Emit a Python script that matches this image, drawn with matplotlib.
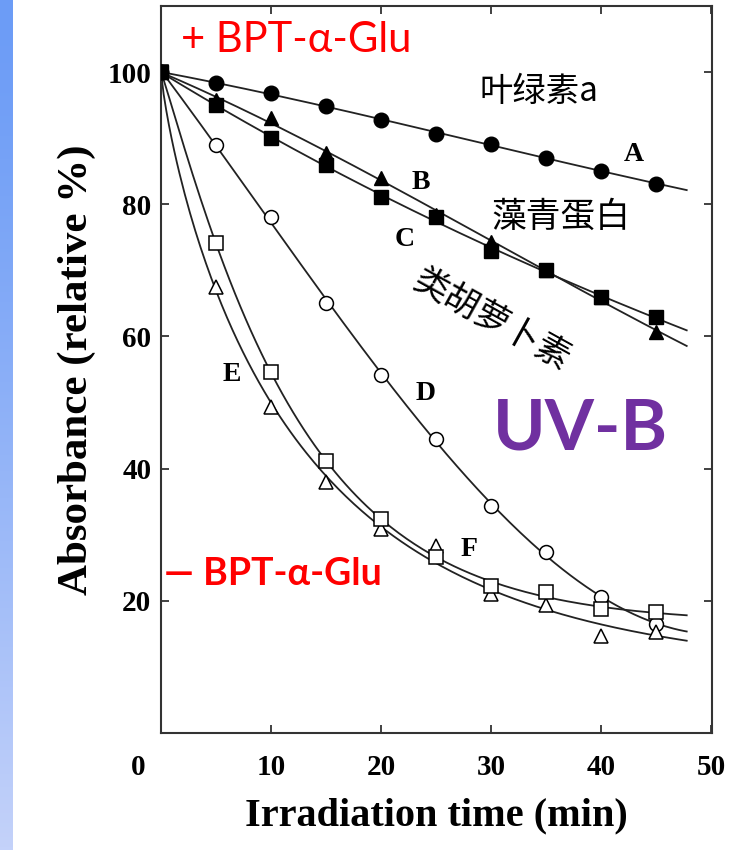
import numpy as np
import matplotlib
matplotlib.use('Agg')
import matplotlib.pyplot as plt

# irradiation time points (min)
t = [0, 5, 10, 15, 20, 25, 30, 35, 40, 45]

# relative absorbance (%) for each pigment series
A = [100, 98.3, 96.8, 94.9, 92.7, 90.7, 89.1, 87.0, 85.1, 83.1]
B = [100, 95.8, 93.0, 87.8, 84.0, 78.4, 74.3, 70.1, 66.0, 60.6]
C = [100, 95.0, 90.0, 86.0, 81.1, 78.0, 73.0, 70.0, 65.9, 62.9]
D = [100, 89.0, 78.0, 65.0, 54.1, 44.5, 34.3, 27.4, 20.6, 16.5]
E = [100, 67.5, 49.3, 38.0, 30.9, 28.3, 21.0, 19.3, 14.7, 15.3]
F = [100, 74.2, 54.6, 41.1, 32.4, 26.6, 22.3, 21.4, 18.8, 18.3]

xticks = [10, 20, 30, 40, 50]
yticks = [20, 40, 60, 80, 100]

serif = 'Liberation Serif'
cjk = ['Noto Sans CJK SC', 'DejaVu Sans']


def fit_exp(x, y, tmax=47.8):
    # y = a + (y0 - a)*exp(-k t^p), curve pinned at the first point
    x = np.asarray(x, float)
    y = np.asarray(y, float)
    y0 = y[0]
    best = None
    for p in np.linspace(0.6, 1.2, 31):
        for k in np.linspace(0.005, 0.6, 600):
            e = np.exp(-k * x ** p)
            g = 1 - e
            a = np.sum(g * (y - y0 * e)) / np.sum(g * g)
            err = np.sum((a + (y0 - a) * e - y) ** 2)
            if best is None or err < best[0]:
                best = (err, k, p, a)
    _, k, p, a = best
    xs = np.linspace(0, tmax, 200)
    return xs, a + (y0 - a) * np.exp(-k * xs ** p)


def fit_poly(x, y, deg=3, tmax=47.8):
    c = np.polyfit(x, y, deg)
    xs = np.linspace(0, tmax, 200)
    return xs, np.polyval(c, xs)


fig = plt.figure(figsize=(7.51, 8.5), dpi=100)
fig.patch.set_facecolor('white')

# blue slide strip along the left edge
strip = fig.add_axes([0, 0, 13 / 751, 1])
grad = np.linspace(0, 1, 256)[:, None]
top = np.array([108, 156, 246]) / 255
bot = np.array([196, 210, 250]) / 255
img = top + (bot - top) * grad[:, :, None] ** 1.3
img = img.repeat(2, axis=1)
strip.imshow(img, aspect='auto', extent=[0, 1, 0, 1], origin='upper')
strip.axis('off')

ax = fig.add_axes([161 / 751, 1 - 733 / 850, 551 / 751, 727 / 850])
ax.set_xlim(0, 50.1)
ax.set_ylim(0, 110)

lc = '#222222'
for ys, kind in [(A, 'p'), (B, 'p'), (C, 'p'), (D, 'p'), (E, 'e'), (F, 'e')]:
    if kind == 'e':
        xs, fy = fit_exp(t, ys)
    else:
        xs, fy = fit_poly(t, ys)
    ax.plot(xs, fy, color=lc, lw=1.3, zorder=2)

ms = 10.5
ax.plot(t, A, 'o', color='black', ms=ms, zorder=3)
ax.plot(t, B, '^', color='black', ms=ms, zorder=3)
ax.plot(t, C, 's', color='black', ms=ms - 0.8, zorder=4)
ax.plot(t, D, 'o', mfc='white', mec='black', mew=1.1, ms=ms - 0.5, zorder=3)
ax.plot(t, E, '^', mfc='white', mec='black', mew=1.1, ms=ms, zorder=3)
ax.plot(t, F, 's', mfc='white', mec='black', mew=1.1, ms=ms - 0.8, zorder=3)

# frame and ticks
for s in ax.spines.values():
    s.set_linewidth(1.5)
    s.set_color('#333333')
ax.set_xticks(xticks)
ax.set_yticks(yticks)
ax.tick_params(direction='in', length=6, width=1.3, color='#333333',
               top=True, right=True, labelsize=21)
ax.tick_params(axis='x', pad=15)
ax.tick_params(axis='y', pad=7)
for lab in ax.get_xticklabels() + ax.get_yticklabels():
    lab.set_fontfamily(serif)
    lab.set_fontweight('bold')
ax.text(-2.1, -5.2, '0', transform=ax.transData, ha='center', va='center',
        fontsize=21, fontfamily=serif, fontweight='bold', clip_on=False)

ax.set_xlabel('Irradiation time (min)', fontsize=29, fontfamily=serif,
              fontweight='bold', labelpad=12)
ax.set_ylabel('Absorbance (relative %)', fontsize=31, fontfamily=serif,
              fontweight='bold', labelpad=8)

# curve letters
for s, x, y in [('A', 43.0, 87.5), ('B', 23.6, 83.3), ('C', 22.2, 74.7),
                ('D', 24.1, 51.3), ('E', 6.4, 54.3), ('F', 28.0, 27.7)]:
    ax.text(x, y, s, fontsize=20, fontfamily=serif, fontweight='bold',
            ha='center', va='center')

# pigment names
ax.text(29.0, 97.0, '叶绿素a', fontsize=24, family=cjk, ha='left', va='center')
ax.text(30.0, 78.0, '藻青蛋白', fontsize=25, family=cjk, ha='left', va='center')
ax.text(30.1, 62.5, '类胡萝卜素', fontsize=25, family=cjk, ha='center',
        va='center', rotation=-29)

ax.text(46.1, 46.0, 'UV-B', fontsize=51, fontfamily='Lato', fontweight='bold',
        color='#7030A0', ha='right', va='center')
ax.text(1.8, 104.8, '+ BPT-α-Glu', fontsize=30, fontfamily='Lato',
        color='#FF0000', ha='left', va='center')
ax.text(0.3, 24.1, '— BPT-α-Glu', fontsize=27, fontfamily='Lato',
        fontweight='bold', color='#FF0000', ha='left', va='center')

fig.savefig('out.png', dpi=100, facecolor='white')
